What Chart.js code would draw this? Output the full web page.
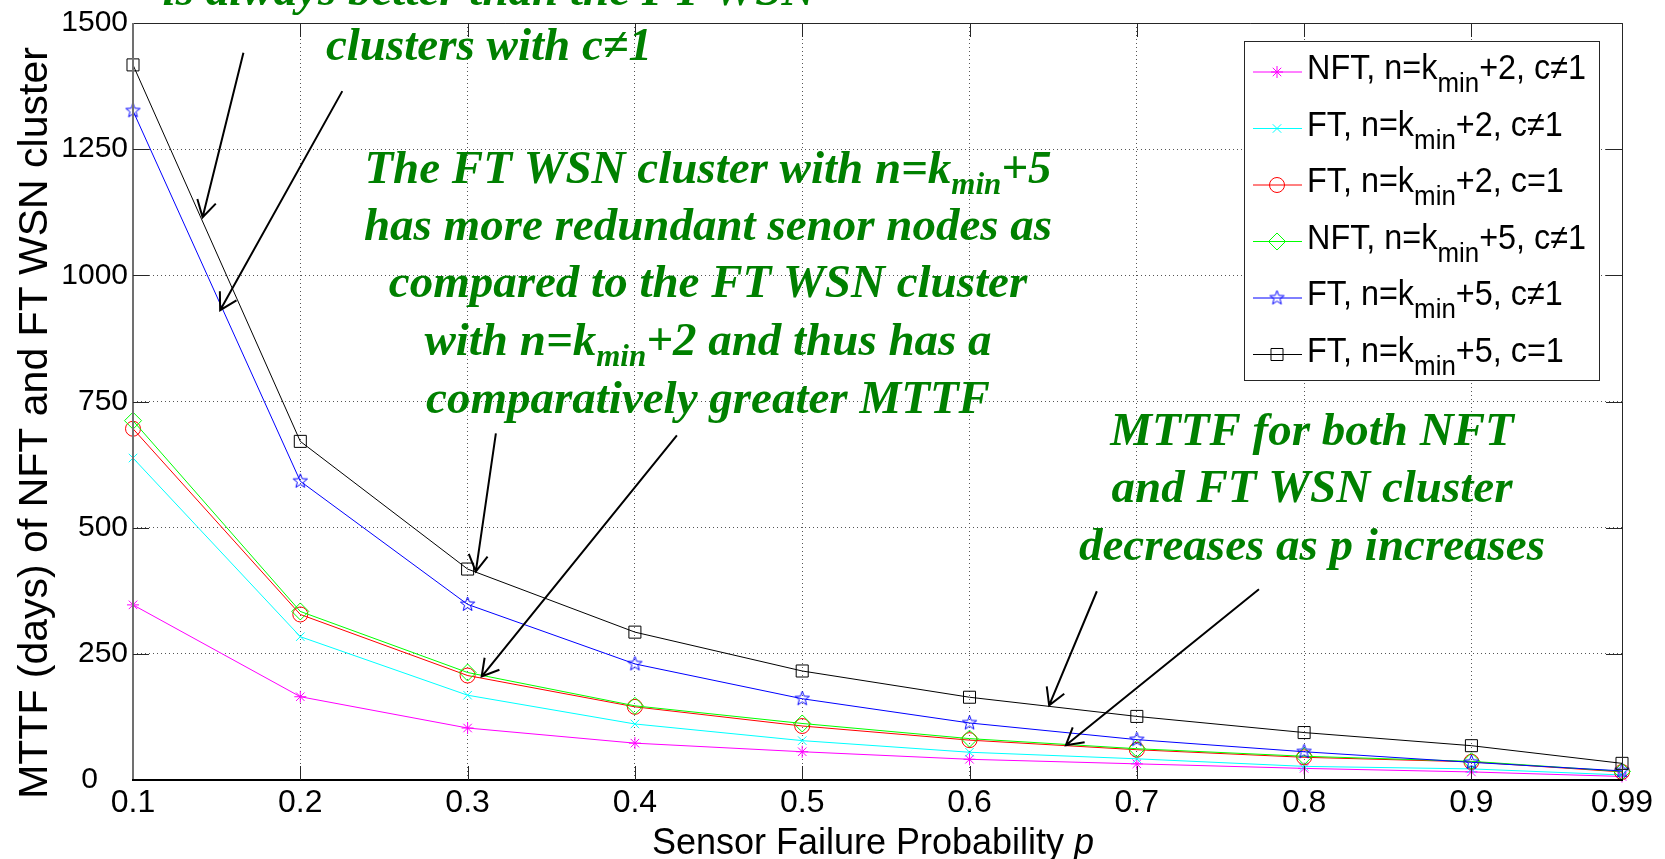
<!DOCTYPE html>
<html>
<head>
<meta charset="utf-8">
<script src="https://cdn.jsdelivr.net/npm/chart.js@4.4.0/dist/chart.umd.min.js"></script>
<style>
html, body { margin: 0; padding: 0; background: #fff; }
#wrap { width: 1665px; height: 859px; }
</style>
</head>
<body>
<div id="wrap"><canvas id="mttfChart" width="1665" height="859"></canvas></div>
<script>
// data
const pValues = [0.1, 0.2, 0.3, 0.4, 0.5, 0.6, 0.7, 0.8, 0.9, 0.99];
const xTickLabels = ['0.1', '0.2', '0.3', '0.4', '0.5', '0.6', '0.7', '0.8', '0.9', '0.99'];
const yTickValues = [0, 250, 500, 750, 1000, 1250, 1500];

const nftK2 = [347, 165, 103, 73, 56, 41, 32, 23, 16, 7];
const ftK2 = [638, 284, 168, 111, 78, 55, 42, 27, 22, 10];
const ftK2c1 = [696, 328, 207, 145, 107, 79, 60, 45, 36, 16];
const nftK5 = [712, 334, 213, 147, 112, 82, 62, 47, 37, 17];
const ftK5 = [1326, 592, 348, 230, 161, 113, 80, 56, 35, 18];
const ftK5c1 = [1417, 671, 418, 293, 216, 164, 126, 94, 68, 33];

// legend text: [normal, subscript, normal]
const legendLabels = [
    ['NFT, n=k', 'min', '+2, c\u22601'],
    ['FT, n=k', 'min', '+2, c\u22601'],
    ['FT, n=k', 'min', '+2, c=1'],
    ['NFT, n=k', 'min', '+5, c\u22601'],
    ['FT, n=k', 'min', '+5, c\u22601'],
    ['FT, n=k', 'min', '+5, c=1']
];

// arrows in data units: [fromP, fromY, toP, toY]
const arrows = [
    [0.166, 1441, 0.1416, 1115],
    [0.2251, 1365, 0.1521, 931],
    [0.3169, 687, 0.3049, 413],
    [0.4251, 683, 0.3084, 205],
    [0.6761, 374, 0.6476, 148],
    [0.773, 378, 0.6576, 69]
];

const noteTop = { cx: 489, base: [5, 60], lines: [
    ['is always better than the FT WSN'],
    ['clusters with c\u22601']
]};
const noteMid = { cx: 708, base: [183, 240, 297, 355, 413], lines: [
    ['The FT WSN cluster with n=k', 'min', '+5'],
    ['has more redundant senor nodes as'],
    ['compared to the FT WSN cluster'],
    ['with n=k', 'min', '+2 and thus has a'],
    ['comparatively greater MTTF']
]};
const noteRight = { cx: 1312, base: [445, 502, 560], lines: [
    ['MTTF for both NFT'],
    ['and FT WSN cluster'],
    ['decreases as p increases']
]};

const SANS = '"Liberation Sans", Arial, sans-serif';
const SERIF = '"Liberation Serif", "Times New Roman", serif';

function makePentagram(color, r) {
    const c = document.createElement('canvas');
    const s = Math.ceil(r * 2 + 4);
    c.width = s; c.height = s;
    const g = c.getContext('2d');
    g.strokeStyle = color;
    g.lineWidth = 1;
    g.beginPath();
    for (let i = 0; i < 10; i++) {
        const a = -Math.PI / 2 + i * Math.PI / 5;
        const rr = i % 2 === 0 ? r : r * 0.42;
        const x = s / 2 + rr * Math.cos(a), y = s / 2 + rr * Math.sin(a);
        if (i) g.lineTo(x, y); else g.moveTo(x, y);
    }
    g.closePath();
    g.stroke();
    return c;
}
const pentagram = makePentagram('#0000ff', 7.5);

const series = [
    { data: nftK2, color: '#ff00ff', style: 'star', r: 6 },
    { data: ftK2, color: '#00ffff', style: 'crossRot', r: 6 },
    { data: ftK2c1, color: '#ff0000', style: 'circle', r: 7.5 },
    { data: nftK5, color: '#00ff00', style: 'rectRot', r: 8.5 },
    { data: ftK5, color: '#0000ff', style: pentagram, r: 8 },
    { data: ftK5c1, color: '#000000', style: 'rect', r: 8.5 }
];

function drawMark(ctx, s, x, y) {
    ctx.save();
    ctx.strokeStyle = s.color;
    ctx.lineWidth = 1;
    ctx.beginPath();
    const d = s.r * Math.SQRT1_2;
    if (s.style === 'star') {
        ctx.moveTo(x - s.r, y); ctx.lineTo(x + s.r, y);
        ctx.moveTo(x, y - s.r); ctx.lineTo(x, y + s.r);
        ctx.moveTo(x - d, y - d); ctx.lineTo(x + d, y + d);
        ctx.moveTo(x - d, y + d); ctx.lineTo(x + d, y - d);
    } else if (s.style === 'crossRot') {
        ctx.moveTo(x - d, y - d); ctx.lineTo(x + d, y + d);
        ctx.moveTo(x - d, y + d); ctx.lineTo(x + d, y - d);
    } else if (s.style === 'circle') {
        ctx.arc(x, y, s.r, 0, Math.PI * 2);
    } else if (s.style === 'rectRot') {
        ctx.moveTo(x - s.r, y); ctx.lineTo(x, y - s.r); ctx.lineTo(x + s.r, y); ctx.lineTo(x, y + s.r); ctx.closePath();
    } else if (s.style === 'rect') {
        ctx.rect(x - d, y - d, 2 * d, 2 * d);
    } else {
        ctx.drawImage(s.style, x - s.style.width / 2, y - s.style.height / 2);
    }
    ctx.stroke();
    ctx.restore();
}

// text with subscripts (odd parts are subscripts), sx squeezes it sideways
function drawRich(ctx, parts, x, y, center, font, subFont, subDy, sx) {
    sx = sx || 1;
    let w = 0;
    parts.forEach((t, i) => { ctx.font = i % 2 ? subFont : font; w += ctx.measureText(t).width; });
    ctx.save();
    ctx.translate(center ? x - w * sx / 2 : x, y);
    ctx.scale(sx, 1);
    ctx.textAlign = 'left';
    ctx.textBaseline = 'alphabetic';
    let cx = 0;
    parts.forEach((t, i) => {
        ctx.font = i % 2 ? subFont : font;
        ctx.fillText(t, cx, i % 2 ? subDy : 0);
        cx += ctx.measureText(t).width;
    });
    ctx.restore();
}

function drawNote(ctx, note) {
    ctx.fillStyle = '#008000';
    note.lines.forEach((parts, i) => {
        drawRich(ctx, parts, note.cx, note.base[i], true,
            'italic bold 47px ' + SERIF, 'italic bold 31px ' + SERIF, 11);
    });
}

const decorPlugin = {
    id: 'decor',
    beforeDraw(chart) {
        const ctx = chart.ctx;
        ctx.save();
        ctx.fillStyle = '#fff';
        ctx.fillRect(0, 0, chart.width, chart.height);
        ctx.restore();
    },
    afterDatasetsDraw(chart) {
        const ctx = chart.ctx, a = chart.chartArea;
        const xs = chart.scales.x, ys = chart.scales.y;
        ctx.save();
        // axes box
        ctx.strokeStyle = '#262626';
        ctx.lineWidth = 1;
        ctx.beginPath();
        ctx.moveTo(a.left, a.top + 0.5); ctx.lineTo(a.right + 0.5, a.top + 0.5); ctx.lineTo(a.right + 0.5, a.bottom);
        ctx.stroke();
        ctx.lineWidth = 2;
        ctx.strokeStyle = '#707070';
        ctx.beginPath(); ctx.moveTo(a.left, a.top); ctx.lineTo(a.left, a.bottom); ctx.stroke();
        ctx.strokeStyle = '#000';
        ctx.beginPath(); ctx.moveTo(a.left - 1, a.bottom); ctx.lineTo(a.right + 1, a.bottom); ctx.stroke();
        // inward ticks
        ctx.lineWidth = 1;
        ctx.strokeStyle = '#262626';
        ctx.beginPath();
        yTickValues.slice(1, -1).forEach(v => {
            const py = Math.round(ys.getPixelForValue(v)) + 0.5;
            ctx.moveTo(a.left, py); ctx.lineTo(a.left + 16, py);
            ctx.moveTo(a.right, py); ctx.lineTo(a.right - 16, py);
        });
        pValues.slice(1, -1).forEach(v => {
            const px = Math.round(xs.getPixelForValue(v)) + 0.5;
            ctx.moveTo(px, a.bottom); ctx.lineTo(px, a.bottom - 14);
            ctx.moveTo(px, a.top); ctx.lineTo(px, a.top + 14);
        });
        ctx.stroke();
        ctx.restore();
    },
    afterDraw(chart) {
        const ctx = chart.ctx;
        const xs = chart.scales.x, ys = chart.scales.y;
        ctx.save();

        // legend
        const lx = 1244, ly = 41, lw = 355, lh = 339;
        ctx.fillStyle = '#fff';
        ctx.fillRect(lx, ly, lw, lh);
        ctx.strokeStyle = '#262626';
        ctx.lineWidth = 1;
        ctx.strokeRect(lx + 0.5, ly + 0.5, lw, lh);
        series.forEach((s, i) => {
            const yy = ly + 31 + 56.5 * i;
            ctx.strokeStyle = s.color;
            ctx.lineWidth = 1;
            ctx.beginPath(); ctx.moveTo(1253, yy); ctx.lineTo(1302, yy); ctx.stroke();
            drawMark(ctx, s, 1277, yy);
            ctx.fillStyle = '#000';
            drawRich(ctx, legendLabels[i], 1307, yy + 7, false, '35px ' + SANS, '28px ' + SANS, 13, 0.925);
        });

        // annotations
        drawNote(ctx, noteTop);
        drawNote(ctx, noteMid);
        drawNote(ctx, noteRight);

        ctx.strokeStyle = '#000';
        ctx.lineWidth = 2;
        arrows.forEach(([p0, v0, p1, v1]) => {
            const x0 = xs.getPixelForValue(p0), y0 = ys.getPixelForValue(v0);
            const x1 = xs.getPixelForValue(p1), y1 = ys.getPixelForValue(v1);
            const ang = Math.atan2(y0 - y1, x0 - x1);
            const len = 19, spread = Math.PI / 6;
            ctx.beginPath();
            ctx.moveTo(x0, y0); ctx.lineTo(x1, y1);
            ctx.moveTo(x1 + len * Math.cos(ang - spread), y1 + len * Math.sin(ang - spread));
            ctx.lineTo(x1, y1);
            ctx.lineTo(x1 + len * Math.cos(ang + spread), y1 + len * Math.sin(ang + spread));
            ctx.stroke();
        });

        // axis titles
        ctx.fillStyle = '#000';
        ctx.textBaseline = 'alphabetic';
        ctx.save();
        ctx.translate(47, 423);
        ctx.rotate(-Math.PI / 2);
        ctx.textAlign = 'center';
        ctx.font = '41px ' + SANS;
        ctx.fillText('MTTF (days) of NFT and FT WSN cluster', 0, 0);
        ctx.restore();

        const t1 = 'Sensor Failure Probability ', t2 = 'p';
        ctx.font = '36px ' + SANS;
        const w1 = ctx.measureText(t1).width;
        ctx.font = 'italic 36px ' + SANS;
        const w2 = ctx.measureText(t2).width;
        const tx = 873 - (w1 + w2) / 2;
        ctx.textAlign = 'left';
        ctx.font = '36px ' + SANS;
        ctx.fillText(t1, tx, 854);
        ctx.font = 'italic 36px ' + SANS;
        ctx.fillText(t2, tx + w1, 854);
        ctx.restore();
    }
};

const ctxMttf = document.getElementById('mttfChart');

new Chart(ctxMttf, {
    type: 'line',
    data: {
        datasets: series.map((s, i) => ({
            label: legendLabels[i].join(''),
            data: pValues.map((p, j) => ({ x: p, y: s.data[j] })),
            borderColor: s.color,
            backgroundColor: 'transparent',
            borderWidth: 1,
            pointStyle: s.style,
            pointRadius: s.r,
            pointBorderColor: s.color,
            pointBackgroundColor: 'transparent',
            pointBorderWidth: 1,
            tension: 0,
            fill: false,
            clip: false,
            order: series.length - i
        }))
    },
    options: {
        responsive: false,
        animation: false,
        devicePixelRatio: 1,
        layout: { padding: { left: 0, right: 43, top: 20, bottom: 0 } },
        plugins: {
            legend: { display: false },
            tooltip: { enabled: false }
        },
        scales: {
            x: {
                type: 'linear',
                min: 0.1,
                max: 0.99,
                afterBuildTicks: scale => { scale.ticks = pValues.map(v => ({ value: v })); },
                afterFit: scale => { scale.height = 79; },
                ticks: {
                    autoSkip: false,
                    maxRotation: 0,
                    padding: 4,
                    color: '#000',
                    font: { family: SANS, size: 32 },
                    callback: (v, i) => xTickLabels[i]
                },
                grid: { color: '#555', lineWidth: 1, drawTicks: false },
                border: { display: false, dash: [1, 3] }
            },
            y: {
                min: 0,
                max: 1500,
                afterBuildTicks: scale => { scale.ticks = yTickValues.map(v => ({ value: v })); },
                afterFit: scale => { scale.width = 133; },
                ticks: {
                    padding: 5,
                    color: '#000',
                    font: { family: SANS, size: 30 },
                    callback: v => (v === 0 ? '0\u2002\u2002' : String(v))
                },
                grid: { color: '#555', lineWidth: 1, drawTicks: false },
                border: { display: false, dash: [1, 3] }
            }
        }
    },
    plugins: [decorPlugin]
});
</script>
</body>
</html>
